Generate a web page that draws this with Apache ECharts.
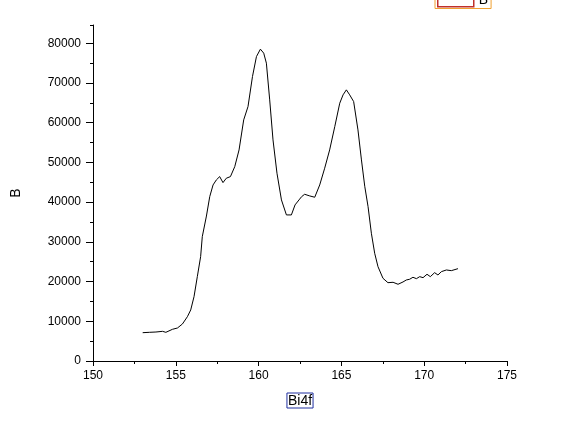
<!DOCTYPE html>
<html>
<head>
<meta charset="utf-8">
<script src="https://cdn.jsdelivr.net/npm/echarts@6/dist/echarts.min.js"></script>
<style>
  html, body { margin: 0; padding: 0; background: #fff; }
  #chart { width: 571px; height: 427px; }
</style>
</head>
<body>
<div id="chart"></div>
<script>
// Bi4f spectrum
const energy = [
  153.0, 153.4, 153.8, 154.2, 154.4, 154.8, 155.1, 155.4, 155.7, 155.9,
  156.1, 156.3, 156.5, 156.6, 156.85, 157.05, 157.25, 157.45, 157.65, 157.85,
  158.05, 158.3, 158.56, 158.82, 159.1, 159.36, 159.63, 159.87, 160.11, 160.31,
  160.47, 160.67, 160.87, 161.11, 161.38, 161.68, 161.98, 162.2, 162.44, 162.6,
  162.78, 163.09, 163.39, 163.69, 163.99, 164.29, 164.6, 164.9, 165.1, 165.3,
  165.5, 165.74, 166.0, 166.21, 166.41, 166.61, 166.81, 167.01, 167.21, 167.51,
  167.81, 168.12, 168.42, 168.72, 168.92, 169.12, 169.32, 169.53, 169.73, 169.93,
  170.17, 170.37, 170.63, 170.83, 171.04, 171.34, 171.64, 172.04
]
const counts = [
  7130, 7220, 7300, 7470, 7220, 7980, 8310, 9320, 11160, 12850,
  16200, 21240, 26280, 31310, 36500, 41390, 44330, 45600, 46430, 44920,
  46020, 46430, 48940, 53150, 60710, 64060, 71620, 76650, 78520, 77510,
  74990, 65750, 55670, 47280, 40560, 36780, 36780, 39300, 40560, 41390,
  41980, 41560, 41230, 44330, 48540, 53150, 59020, 64910, 67010, 68270,
  67010, 65320, 58190, 50630, 44000, 38870, 32170, 27130, 23750, 20830,
  19720, 19820, 19320, 19900, 20400, 20580, 21080, 20730, 21240, 20980,
  21840, 21240, 22240, 21660, 22500, 22920, 22750, 23250
]
const yMajor = [0, 10000, 20000, 30000, 40000, 50000, 60000, 70000, 80000]
const yMinor = [5000, 15000, 25000, 35000, 45000, 55000, 65000, 75000, 84600]

const chart = echarts.init(document.getElementById("chart"))
const font = "Liberation Sans, Arial, sans-serif"

const option = {
  animation: false,
  backgroundColor: "#fff",
  legend: {
    data: ["B"],
    left: 435,
    top: -11,
    padding: [3, 3, 1, 2],
    itemWidth: 36,
    itemHeight: 14,
    itemGap: 4,
    icon: "rect",
    selectedMode: false,
    borderColor: "#f0a030",
    borderWidth: 1,
    itemStyle: { color: "#fff", borderColor: "#c0302a", borderWidth: 1.5 },
    textStyle: { fontFamily: font, fontSize: 14, color: "#000" },
  },
  grid: { left: 93, top: 25, width: 414, bottom: 66 },
  xAxis: {
    type: "value",
    min: 150,
    max: 175,
    interval: 5,
    name: "Bi4f",
    nameLocation: "middle",
    nameGap: 32,
    nameTextStyle: {
      fontFamily: font, fontSize: 14, color: "#000",
      borderColor: "#2030a0", borderWidth: 1, padding: [1, 1, 0, 1],
    },
    axisLine: { lineStyle: { color: "#000", width: 1 } },
    axisTick: { length: 5, lineStyle: { color: "#000" } },
    minorTick: { show: true, splitNumber: 2, length: 3, lineStyle: { color: "#000" } },
    axisLabel: { margin: 9, fontFamily: font, fontSize: 12, color: "#000" },
    splitLine: { show: false },
  },
  yAxis: [
    {
      type: "value",
      min: 0,
      max: 84600,
      name: "B",
      nameLocation: "middle",
      nameGap: 70,
      nameTextStyle: { fontFamily: font, fontSize: 14, color: "#000" },
      axisLine: { show: true, lineStyle: { color: "#000", width: 1 } },
      axisTick: { length: 7, customValues: yMajor, lineStyle: { color: "#000" } },
      axisLabel: {
        margin: 12, customValues: yMajor, fontFamily: font, fontSize: 12, color: "#000",
        formatter: (v) => String(v),
      },
      splitLine: { show: false },
    },
    {
      type: "value",
      min: 0,
      max: 84600,
      position: "left",
      axisLine: { show: false },
      axisTick: { show: true, length: 3, customValues: yMinor, lineStyle: { color: "#000" } },
      axisLabel: { show: false },
      splitLine: { show: false },
    },
  ],
  series: [
    {
      name: "B",
      type: "line",
      data: energy.map((x, i) => [x, counts[i]]),
      showSymbol: false,
      lineStyle: { color: "#000", width: 1 },
      itemStyle: { color: "#000" },
    },
  ],
}
chart.setOption(option)
</script>
</body>
</html>
